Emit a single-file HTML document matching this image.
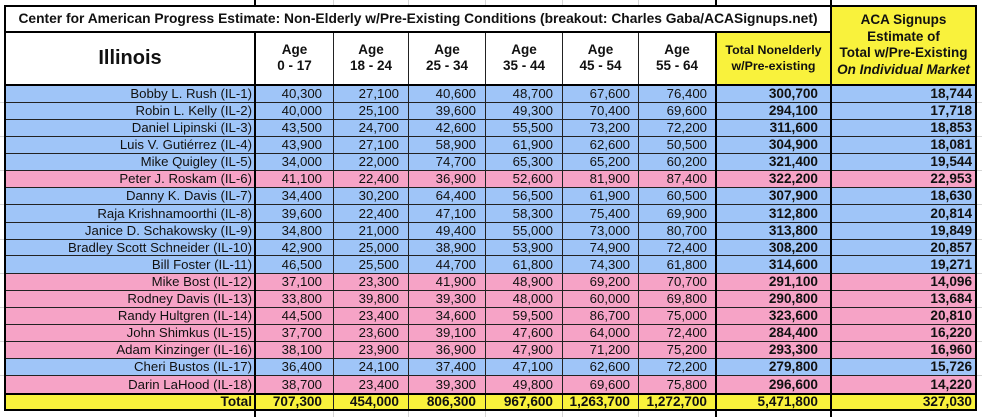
<!DOCTYPE html>
<html><head><meta charset="utf-8">
<style>
body{margin:0;width:982px;height:417px;position:relative;overflow:hidden;background:#fff;font-family:"Liberation Sans",Arial,sans-serif;color:#111}
.a{position:absolute}
.k{position:absolute;background:#000}
.t{position:absolute;background:#222}
.g{position:absolute;background:#d6d6d6}
.r{position:absolute;left:6px;width:969px;font-size:13.2px}
.r span{position:absolute;top:0;white-space:nowrap}
.r span:nth-child(1){right:723px}
.r span:nth-child(2){right:653px}
.r span:nth-child(3){right:576px}
.r span:nth-child(4){right:499px}
.r span:nth-child(5){right:422px}
.r span:nth-child(6){right:345px}
.r span:nth-child(7){right:268px}
.r span:nth-child(8){right:157px;font-weight:bold;font-size:13.6px}
.r span:nth-child(9){right:3px;font-weight:bold;font-size:13.6px}
.tot span{font-weight:bold;font-size:13.6px}
.b{background:#9fc5f8}
.p{background:#f6a3c6}
.y{background:#f9f23c}
.h{position:absolute;text-align:center;font-weight:bold;font-size:13.5px;line-height:16px;top:42px;white-space:nowrap}
</style></head><body>

<!-- header backgrounds -->
<div class="a y" style="left:717px;top:33px;width:113px;height:51px"></div>
<div class="a y" style="left:832px;top:7px;width:143px;height:77px"></div>

<!-- title -->
<div class="a" style="left:6px;top:7px;width:824px;height:24px;line-height:24px;text-align:center;font-weight:bold;font-size:13.8px;white-space:nowrap">Center for American Progress Estimate: Non-Elderly w/Pre-Existing Conditions (breakout: Charles Gaba/ACASignups.net)</div>

<!-- header -->
<div class="a" style="left:6px;top:33px;width:248px;height:51px;line-height:51px;text-align:center;font-weight:bold;font-size:20px">Illinois</div>
<div class="h" style="left:256px;width:77px">Age<br>0 - 17</div>
<div class="h" style="left:334px;width:74px">Age<br>18 - 24</div>
<div class="h" style="left:409px;width:76px">Age<br>25 - 34</div>
<div class="h" style="left:486px;width:76px">Age<br>35 - 44</div>
<div class="h" style="left:563px;width:75px">Age<br>45 - 54</div>
<div class="h" style="left:639px;width:76px">Age<br>55 - 64</div>
<div class="h" style="left:717px;width:113px;font-size:12.4px">Total Nonelderly<br>w/Pre-existing</div>
<div class="h" style="left:832px;width:143px;top:12px;line-height:16.6px">ACA Signups<br>Estimate of<br>Total w/Pre-Existing<br><i>On Individual Market</i></div>

<!-- data rows -->
<div class="r b" style="top:86px;height:16px;line-height:16px"><span>Bobby L. Rush (IL-1)</span><span>40,300</span><span>27,100</span><span>40,600</span><span>48,700</span><span>67,600</span><span>76,400</span><span>300,700</span><span>18,744</span></div>
<div class="r b" style="top:103px;height:16px;line-height:16px"><span>Robin L. Kelly (IL-2)</span><span>40,000</span><span>25,100</span><span>39,600</span><span>49,300</span><span>70,400</span><span>69,600</span><span>294,100</span><span>17,718</span></div>
<div class="r b" style="top:120px;height:16px;line-height:16px"><span>Daniel Lipinski (IL-3)</span><span>43,500</span><span>24,700</span><span>42,600</span><span>55,500</span><span>73,200</span><span>72,200</span><span>311,600</span><span>18,853</span></div>
<div class="r b" style="top:137px;height:16px;line-height:16px"><span>Luis V. Gutiérrez (IL-4)</span><span>43,900</span><span>27,100</span><span>58,900</span><span>61,900</span><span>62,600</span><span>50,500</span><span>304,900</span><span>18,081</span></div>
<div class="r b" style="top:154px;height:16px;line-height:16px"><span>Mike Quigley (IL-5)</span><span>34,000</span><span>22,000</span><span>74,700</span><span>65,300</span><span>65,200</span><span>60,200</span><span>321,400</span><span>19,544</span></div>
<div class="r p" style="top:171px;height:16px;line-height:16px"><span>Peter J. Roskam (IL-6)</span><span>41,100</span><span>22,400</span><span>36,900</span><span>52,600</span><span>81,900</span><span>87,400</span><span>322,200</span><span>22,953</span></div>
<div class="r b" style="top:188px;height:16px;line-height:16px"><span>Danny K. Davis (IL-7)</span><span>34,400</span><span>30,200</span><span>64,400</span><span>56,500</span><span>61,900</span><span>60,500</span><span>307,900</span><span>18,630</span></div>
<div class="r b" style="top:205px;height:17px;line-height:17px"><span>Raja Krishnamoorthi (IL-8)</span><span>39,600</span><span>22,400</span><span>47,100</span><span>58,300</span><span>75,400</span><span>69,900</span><span>312,800</span><span>20,814</span></div>
<div class="r b" style="top:223px;height:16px;line-height:16px"><span>Janice D. Schakowsky (IL-9)</span><span>34,800</span><span>21,000</span><span>49,400</span><span>55,000</span><span>73,000</span><span>80,700</span><span>313,800</span><span>19,849</span></div>
<div class="r b" style="top:240px;height:15px;line-height:15px"><span>Bradley Scott Schneider (IL-10)</span><span>42,900</span><span>25,000</span><span>38,900</span><span>53,900</span><span>74,900</span><span>72,400</span><span>308,200</span><span>20,857</span></div>
<div class="r b" style="top:256px;height:17px;line-height:17px"><span>Bill Foster (IL-11)</span><span>46,500</span><span>25,500</span><span>44,700</span><span>61,800</span><span>74,300</span><span>61,800</span><span>314,600</span><span>19,271</span></div>
<div class="r p" style="top:274px;height:16px;line-height:16px"><span>Mike Bost (IL-12)</span><span>37,100</span><span>23,300</span><span>41,900</span><span>48,900</span><span>69,200</span><span>70,700</span><span>291,100</span><span>14,096</span></div>
<div class="r p" style="top:291px;height:16px;line-height:16px"><span>Rodney Davis (IL-13)</span><span>33,800</span><span>39,800</span><span>39,300</span><span>48,000</span><span>60,000</span><span>69,800</span><span>290,800</span><span>13,684</span></div>
<div class="r p" style="top:308px;height:16px;line-height:16px"><span>Randy Hultgren (IL-14)</span><span>44,500</span><span>23,400</span><span>34,600</span><span>59,500</span><span>86,700</span><span>75,000</span><span>323,600</span><span>20,810</span></div>
<div class="r p" style="top:325px;height:16px;line-height:16px"><span>John Shimkus (IL-15)</span><span>37,700</span><span>23,600</span><span>39,100</span><span>47,600</span><span>64,000</span><span>72,400</span><span>284,400</span><span>16,220</span></div>
<div class="r p" style="top:342px;height:16px;line-height:16px"><span>Adam Kinzinger (IL-16)</span><span>38,100</span><span>23,900</span><span>36,900</span><span>47,900</span><span>71,200</span><span>75,200</span><span>293,300</span><span>16,960</span></div>
<div class="r b" style="top:359px;height:16px;line-height:16px"><span>Cheri Bustos (IL-17)</span><span>36,400</span><span>24,100</span><span>37,400</span><span>47,100</span><span>62,600</span><span>72,200</span><span>279,800</span><span>15,726</span></div>
<div class="r p" style="top:376px;height:17px;line-height:17px"><span>Darin LaHood (IL-18)</span><span>38,700</span><span>23,400</span><span>39,300</span><span>49,800</span><span>69,600</span><span>75,800</span><span>296,600</span><span>14,220</span></div>
<div class="r y tot" style="top:395px;height:14px;line-height:14px"><span>Total</span><span>707,300</span><span>454,000</span><span>806,300</span><span>967,600</span><span>1,263,700</span><span>1,272,700</span><span>5,471,800</span><span>327,030</span></div>

<!-- thin horizontal lines -->
<div class="t" style="left:6px;width:969px;height:1px;top:102px"></div>
<div class="t" style="left:6px;width:969px;height:1px;top:119px"></div>
<div class="t" style="left:6px;width:969px;height:1px;top:136px"></div>
<div class="t" style="left:6px;width:969px;height:1px;top:153px"></div>
<div class="t" style="left:6px;width:969px;height:1px;top:170px"></div>
<div class="t" style="left:6px;width:969px;height:1px;top:187px"></div>
<div class="t" style="left:6px;width:969px;height:1px;top:204px"></div>
<div class="t" style="left:6px;width:969px;height:1px;top:222px"></div>
<div class="t" style="left:6px;width:969px;height:1px;top:239px"></div>
<div class="t" style="left:6px;width:969px;height:1px;top:255px"></div>
<div class="t" style="left:6px;width:969px;height:1px;top:273px"></div>
<div class="t" style="left:6px;width:969px;height:1px;top:290px"></div>
<div class="t" style="left:6px;width:969px;height:1px;top:307px"></div>
<div class="t" style="left:6px;width:969px;height:1px;top:324px"></div>
<div class="t" style="left:6px;width:969px;height:1px;top:341px"></div>
<div class="t" style="left:6px;width:969px;height:1px;top:358px"></div>
<div class="t" style="left:6px;width:969px;height:1px;top:375px"></div>

<!-- thin vertical lines -->
<div class="t" style="left:333px;top:33px;width:1px;height:376px"></div>
<div class="t" style="left:408px;top:33px;width:1px;height:376px"></div>
<div class="t" style="left:485px;top:33px;width:1px;height:376px"></div>
<div class="t" style="left:562px;top:33px;width:1px;height:376px"></div>
<div class="t" style="left:638px;top:33px;width:1px;height:376px"></div>

<!-- outside gray gridlines -->
<div class="g" style="left:333px;top:0;width:1px;height:5px"></div>
<div class="g" style="left:408px;top:0;width:1px;height:5px"></div>
<div class="g" style="left:485px;top:0;width:1px;height:5px"></div>
<div class="g" style="left:562px;top:0;width:1px;height:5px"></div>
<div class="g" style="left:638px;top:0;width:1px;height:5px"></div>
<div class="g" style="left:333px;top:411px;width:1px;height:6px"></div>
<div class="g" style="left:408px;top:411px;width:1px;height:6px"></div>
<div class="g" style="left:485px;top:411px;width:1px;height:6px"></div>
<div class="g" style="left:562px;top:411px;width:1px;height:6px"></div>
<div class="g" style="left:638px;top:411px;width:1px;height:6px"></div>
<div class="g" style="left:0;top:102px;width:4px;height:1px"></div>
<div class="g" style="left:0;top:136px;width:4px;height:1px"></div>
<div class="g" style="left:0;top:170px;width:4px;height:1px"></div>
<div class="g" style="left:0;top:204px;width:4px;height:1px"></div>
<div class="g" style="left:0;top:239px;width:4px;height:1px"></div>
<div class="g" style="left:0;top:273px;width:4px;height:1px"></div>
<div class="g" style="left:0;top:307px;width:4px;height:1px"></div>
<div class="g" style="left:0;top:341px;width:4px;height:1px"></div>
<div class="g" style="left:0;top:375px;width:4px;height:1px"></div>
<div class="g" style="left:977px;top:102px;width:5px;height:1px"></div>
<div class="g" style="left:977px;top:136px;width:5px;height:1px"></div>
<div class="g" style="left:977px;top:170px;width:5px;height:1px"></div>
<div class="g" style="left:977px;top:204px;width:5px;height:1px"></div>
<div class="g" style="left:977px;top:239px;width:5px;height:1px"></div>
<div class="g" style="left:977px;top:273px;width:5px;height:1px"></div>
<div class="g" style="left:977px;top:307px;width:5px;height:1px"></div>
<div class="g" style="left:977px;top:341px;width:5px;height:1px"></div>
<div class="g" style="left:977px;top:375px;width:5px;height:1px"></div>

<!-- thick horizontal lines -->
<div class="k" style="left:4px;top:5px;width:973px;height:2px"></div>
<div class="k" style="left:4px;top:31px;width:828px;height:2px"></div>
<div class="k" style="left:4px;top:84px;width:973px;height:2px"></div>
<div class="k" style="left:4px;top:393px;width:973px;height:2px"></div>
<div class="k" style="left:4px;top:409px;width:973px;height:2px"></div>

<!-- thick vertical lines -->
<div class="k" style="left:4px;top:5px;width:2px;height:406px"></div>
<div class="k" style="left:254px;top:0;width:2px;height:5px"></div>
<div class="k" style="left:254px;top:31px;width:2px;height:386px"></div>
<div class="k" style="left:715px;top:0;width:2px;height:5px"></div>
<div class="k" style="left:715px;top:31px;width:2px;height:386px"></div>
<div class="k" style="left:830px;top:0;width:2px;height:417px"></div>
<div class="k" style="left:975px;top:5px;width:2px;height:406px"></div>

</body></html>
